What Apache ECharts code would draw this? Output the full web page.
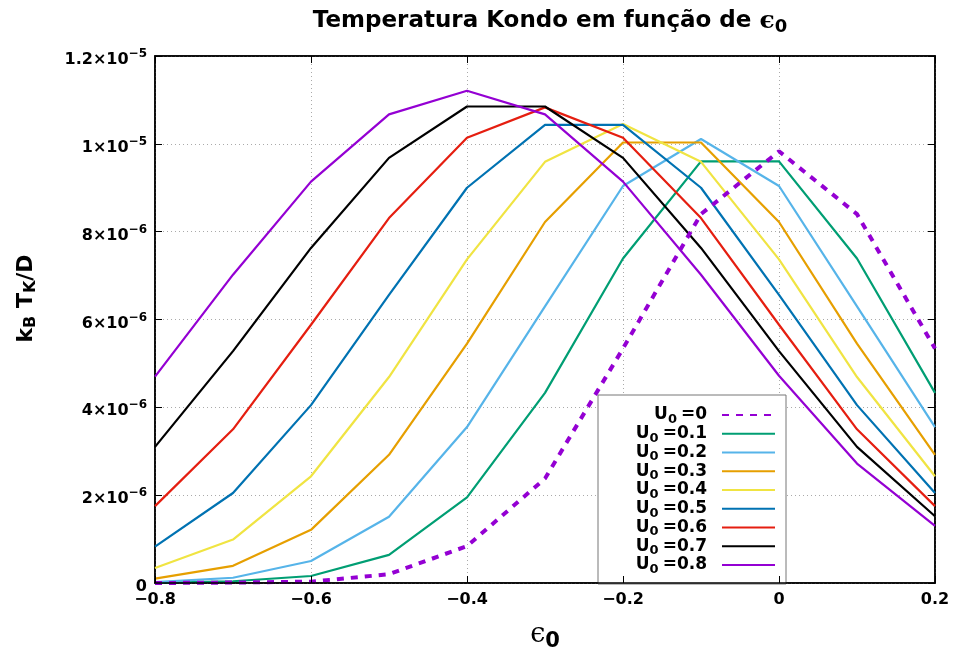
<!DOCTYPE html>
<html>
<head>
<meta charset="utf-8">
<script src="https://cdn.jsdelivr.net/npm/echarts@6/dist/echarts.min.js"></script>
<style>
  html, body { margin: 0; padding: 0; background: #fff; }
  #chart { width: 955px; height: 657px; }
</style>
</head>
<body>
<div id="chart"></div>
<script>
// Kondo temperature k_B T_K / D versus the level energy epsilon_0, for several U_0
const epsilon = [-0.8, -0.7, -0.6, -0.5, -0.4, -0.3, -0.2, -0.1, 0.0, 0.1, 0.2];

const u00 = [0.0, 0.01, 0.03, 0.2, 0.84, 2.38, 5.34, 8.4, 9.83, 8.4, 5.34];
const u01 = [0.005, 0.04, 0.16, 0.64, 1.95, 4.33, 7.39, 9.6, 9.6, 7.39, 4.33];
const u02 = [0.02, 0.12, 0.5, 1.51, 3.55, 6.3, 9.04, 10.11, 9.04, 6.3, 3.55];
const u03 = [0.1, 0.39, 1.21, 2.92, 5.45, 8.22, 10.03, 10.03, 8.22, 5.45, 2.92];
const u04 = [0.34, 0.99, 2.43, 4.69, 7.37, 9.59, 10.45, 9.59, 7.37, 4.69, 2.43];
const u05 = [0.83, 2.05, 4.05, 6.56, 9.0, 10.43, 10.43, 9.0, 6.56, 4.05, 2.05];
const u06 = [1.75, 3.5, 5.88, 8.31, 10.14, 10.83, 10.14, 8.31, 5.88, 3.5, 1.75];
const u07 = [3.1, 5.28, 7.63, 9.68, 10.85, 10.85, 9.68, 7.63, 5.28, 3.1, 1.52];
const u08 = [4.7, 7.02, 9.14, 10.67, 11.21, 10.67, 9.14, 7.02, 4.72, 2.72, 1.3];

const seriesScale = 1e-6;
const seriesNames = ['0', '0.1', '0.2', '0.3', '0.4', '0.5', '0.6', '0.7', '0.8'];
const seriesValues = [u00, u01, u02, u03, u04, u05, u06, u07, u08];
const seriesColors = ['#9400d3', '#009e73', '#56b4e9', '#e69f00', '#f0e442',
                      '#0072b2', '#e51e10', '#000000', '#9400d3'];

const xTickLabels = ['−0.8', '−0.6', '−0.4', '−0.2', '0', '0.2'];
const yTickMantissa = ['0', '2', '4', '6', '8', '1', '1.2'];
const yTickExponent = ['', '−6', '−6', '−6', '−6', '−5', '−5'];

const FONT = 'DejaVu Sans';

const series = seriesValues.map((vals, i) => ({
  name: 'U0=' + seriesNames[i],
  type: 'line',
  data: epsilon.map((e, k) => [e, vals[k] * seriesScale]),
  showSymbol: false,
  symbol: 'none',
  lineStyle: {
    color: seriesColors[i],
    width: i === 0 ? 4 : 2.2,
    type: i === 0 ? [7, 7] : 'solid'
  },
  itemStyle: { color: seriesColors[i] },
  z: i === 0 ? 3 : 2
}));

const tickRich = {
  m: { fontFamily: FONT, fontWeight: 'bold', fontSize: 16, color: '#000', padding: [8, 0, 0, 0] },
  e: { fontFamily: FONT, fontWeight: 'bold', fontSize: 12, color: '#000', padding: [0, 0, 4, 0] }
};

const frameAxis = () => ({ show: true, onZero: false, lineStyle: { color: '#000', width: 1.5 } });
const frameTick = () => ({ show: true, inside: true, length: 7, lineStyle: { color: '#000' } });
const gridDots = () => ({ show: true, lineStyle: { color: '#aaa', type: [1, 3], width: 1 } });

const LEG_LH = 18.75;

const chart = echarts.init(document.getElementById('chart'), null, { renderer: 'canvas' });
chart.setOption({
  animation: false,
  backgroundColor: '#fff',
  title: {
    text: '{t|Temperatura Kondo em função de }{eps|ϵ}{sub|0}',
    left: 545,
    textAlign: 'center',
    top: 1,
    textStyle: {
      rich: {
        t: { fontFamily: FONT, fontWeight: 'bold', fontSize: 23, color: '#000' },
        eps: { fontFamily: 'DejaVu Serif', fontSize: 25, color: '#000' },
        sub: { fontFamily: FONT, fontWeight: 'bold', fontSize: 18, color: '#000', padding: [12, 0, 0, 0] }
      }
    }
  },
  grid: { left: 155, right: 20, top: 56, bottom: 71, show: true, borderColor: '#000', borderWidth: 1.5, backgroundColor: 'transparent' },
  legend: {
    orient: 'vertical',
    left: 598,
    top: 395,
    z: 3,
    align: 'right',
    itemWidth: 53,
    itemHeight: 10,
    itemGap: -3.25,
    padding: [9, 10, 8, 10],
    borderColor: '#777',
    borderWidth: 1,
    backgroundColor: '#fff',
    itemStyle: { opacity: 0 },
    data: series.map(s => s.name),
    formatter: name => '{u|U}{s|0}{r|=' + name.slice(3) + '}',
    textStyle: {
      width: 109,
      lineHeight: LEG_LH,
      rich: {
        u: { fontFamily: FONT, fontWeight: 'bold', fontSize: 17, color: '#000', align: 'right', lineHeight: LEG_LH },
        s: { fontFamily: FONT, fontWeight: 'bold', fontSize: 13, color: '#000', align: 'right', lineHeight: LEG_LH, padding: [9, 4, 0, 0] },
        r: { fontFamily: FONT, fontWeight: 'bold', fontSize: 17, color: '#000', align: 'right', lineHeight: LEG_LH, padding: [0, 10, 0, 0] }
      }
    }
  },
  xAxis: [{
    type: 'value',
    z: 10,
    min: -0.8,
    max: 0.2,
    interval: 0.2,
    name: '{eps|ϵ}{sub|0}',
    nameLocation: 'middle',
    nameGap: 34,
    nameTextStyle: {
      rich: {
        eps: { fontFamily: 'DejaVu Serif', fontSize: 27, color: '#000' },
        sub: { fontFamily: FONT, fontWeight: 'bold', fontSize: 21, color: '#000', padding: [14, 0, 0, 0] }
      }
    },
    axisLine: frameAxis(),
    axisTick: frameTick(),
    axisLabel: {
      margin: 9,
      hideOverlap: false,
      showMinLabel: true,
      showMaxLabel: true,
      fontFamily: FONT, fontWeight: 'bold', fontSize: 16, color: '#000',
      formatter: (v) => {
        const i = Math.round((v + 0.8) / 0.2);
        return xTickLabels[i] !== undefined ? xTickLabels[i] : '';
      }
    },
    splitLine: { show: false }
  }, {
    // top frame edge; also carries the vertical grid, kept beneath the legend
    type: 'value',
    position: 'top',
    z: 0,
    min: -0.8,
    max: 0.2,
    interval: 0.2,
    axisLine: frameAxis(),
    axisTick: frameTick(),
    axisLabel: { show: false },
    splitLine: gridDots()
  }],
  yAxis: [{
    type: 'value',
    min: 0,
    max: 1.2e-5,
    interval: 2e-6,
    name: '{k|k}{s|B}{k| T}{s|K}{k|/D}',
    nameLocation: 'middle',
    nameRotate: 90,
    nameGap: 116,
    nameTextStyle: {
      padding: [0, 0, 0, 42],
      rich: {
        k: { fontFamily: FONT, fontWeight: 'bold', fontSize: 22, color: '#000' },
        s: { fontFamily: FONT, fontWeight: 'bold', fontSize: 16, color: '#000', padding: [10, 0, 0, 0] }
      }
    },
    axisLine: frameAxis(),
    axisTick: frameTick(),
    axisLabel: {
      margin: 8,
      formatter: (v) => {
        const i = Math.round(v / 2e-6);
        if (i === 0) return '{m|0}';
        return '{m|' + yTickMantissa[i] + '×10}{e|' + yTickExponent[i] + '}';
      },
      rich: tickRich
    },
    splitLine: gridDots()
  }, {
    type: 'value',
    position: 'right',
    min: 0,
    max: 1.2e-5,
    interval: 2e-6,
    axisLine: frameAxis(),
    axisTick: frameTick(),
    axisLabel: { show: false },
    splitLine: { show: false }
  }],
  series: series
});
</script>
</body>
</html>
